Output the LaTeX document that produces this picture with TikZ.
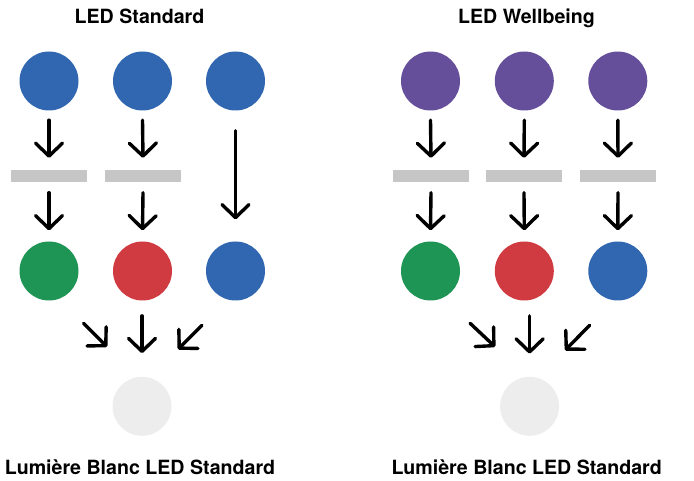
\documentclass[tikz,border=0pt]{standalone}
\usepackage{fontspec}
\setmainfont{TeX Gyre Heros}
\usetikzlibrary{arrows.meta}
\definecolor{ledblue}{RGB}{48,103,176}
\definecolor{ledpurple}{RGB}{101,79,155}
\definecolor{ledgreen}{RGB}{30,148,85}
\definecolor{ledred}{RGB}{208,58,65}
\definecolor{bargray}{RGB}{198,198,198}
\definecolor{whitelight}{RGB}{237,237,237}
\begin{document}
\begin{tikzpicture}[x=1pt,y=-1pt,
  dot/.style={circle,minimum size=59pt,inner sep=0pt,draw=none,fill=#1},
  filterbar/.style={rectangle,fill=bargray,minimum width=76pt,minimum height=12pt,inner sep=0pt},
  arr/.style={line width=3.4pt,line cap=round,-{Straight Barb[length=13pt,width=27pt,line width=3.4pt,round]}},
  lbl/.style={font=\fontsize{19.6}{22}\selectfont\bfseries,anchor=base,inner sep=0pt}]
\useasboundingbox (0,0) rectangle (694,481);

% ---------- Left panel ----------
\node[lbl] (ltitle) at (139.5,24) {LED Standard};
\node[dot=ledblue] (lt1) at (49,81) {};
\node[dot=ledblue] (lt2) at (142.5,81) {};
\node[dot=ledblue] (lt3) at (235.5,81) {};
\node[filterbar] (lb1) at (49,176) {};
\node[filterbar] (lb2) at (143,176) {};
\node[dot=ledgreen] (lm1) at (49,271) {};
\node[dot=ledred] (lm2) at (142.5,271) {};
\node[dot=ledblue] (lm3) at (235.5,271) {};
\node[dot=whitelight] (lw) at (142,406.3) {};
\node[lbl] (lbottom) at (140,474) {Lumière Blanc LED Standard};

\draw[arr] ([yshift=-9.5pt]lt1.south) -- ([yshift=12pt]lb1.north);
\draw[arr] ([yshift=-9.5pt]lt2.south) -- ([yshift=12pt]lb2.north);
\draw[arr] ([yshift=-10.5pt]lb1.south) -- ([yshift=11pt]lm1.north);
\draw[arr] ([yshift=-10.5pt]lb2.south) -- ([yshift=11pt]lm2.north);
\draw[arr] ([yshift=-20pt]lt3.south) -- ([yshift=22pt]lm3.north);

\coordinate (lds) at ([shift={(-58.5,-83)}]lw.center);
\coordinate (lde) at ([shift={(-35,-59.5)}]lw.center);
\coordinate (lrs) at ([shift={(60,-81)}]lw.center);
\coordinate (lre) at ([shift={(36,-57)}]lw.center);
\draw[arr] (lds) -- (lde);
\draw[arr] ([yshift=60.7pt]lw.north) -- ([yshift=23.5pt]lw.north);
\draw[arr] (lrs) -- (lre);

% ---------- Right panel ----------
\node[lbl] (rtitle) at (526.5,24) {LED Wellbeing};
\node[dot=ledpurple] (rt1) at (430.5,81) {};
\node[dot=ledpurple] (rt2) at (524.3,81) {};
\node[dot=ledpurple] (rt3) at (617.8,81) {};
\node[filterbar] (rb1) at (431,176) {};
\node[filterbar] (rb2) at (524,176) {};
\node[filterbar] (rb3) at (618,176) {};
\node[dot=ledgreen] (rm1) at (430.5,271) {};
\node[dot=ledred] (rm2) at (524.3,271) {};
\node[dot=ledblue] (rm3) at (617.8,271) {};
\node[dot=whitelight] (rw) at (529.6,406.3) {};
\node[lbl] (rbottom) at (526.7,474) {Lumière Blanc LED Standard};

\draw[arr] ([yshift=-9.5pt]rt1.south) -- ([yshift=12pt]rb1.north);
\draw[arr] ([yshift=-9.5pt]rt2.south) -- ([yshift=12pt]rb2.north);
\draw[arr] ([yshift=-9.5pt]rt3.south) -- ([yshift=12pt]rb3.north);
\draw[arr] ([yshift=-10.5pt]rb1.south) -- ([yshift=11pt]rm1.north);
\draw[arr] ([yshift=-10.5pt]rb2.south) -- ([yshift=11pt]rm2.north);
\draw[arr] ([yshift=-10.5pt]rb3.south) -- ([yshift=11pt]rm3.north);

\coordinate (rds) at ([shift={(-59.5,-83)}]rw.center);
\coordinate (rde) at ([shift={(-34.5,-59.5)}]rw.center);
\coordinate (rrs) at ([shift={(60,-81)}]rw.center);
\coordinate (rre) at ([shift={(35.5,-56)}]rw.center);
\draw[arr] (rds) -- (rde);
\draw[arr] ([yshift=60.7pt]rw.north) -- ([yshift=23pt]rw.north);
\draw[arr] (rrs) -- (rre);
\end{tikzpicture}
\end{document}
